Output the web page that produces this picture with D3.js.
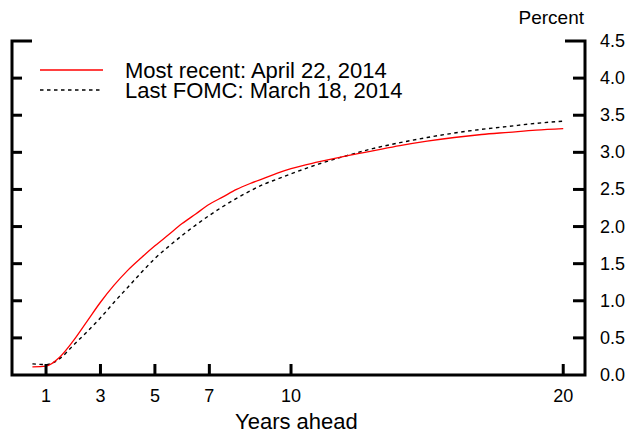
<!DOCTYPE html>
<html>
<head>
<meta charset="utf-8">
<script src="https://d3js.org/d3.v7.min.js"></script>
<style>
  body { margin: 0; background: white; }
  text { font-family: "Liberation Sans", Arial, sans-serif; fill: black; }
</style>
</head>
<body>
<div id="chart"></div>
<script>
// years ahead
var years = [0.5, 1, 1.5, 2, 2.5, 3, 3.5, 4, 4.5, 5, 5.5, 6, 6.5, 7, 7.5, 8, 8.5, 9, 9.5, 10,
             11, 12, 13, 14, 15, 16, 17, 18, 19, 20];
// most recent: April 22, 2014
var recent = [0.11, 0.12, 0.24, 0.46, 0.72, 0.98, 1.21, 1.41, 1.58, 1.74, 1.89, 2.04, 2.17, 2.30, 2.40, 2.50, 2.58, 2.65, 2.72, 2.78,
              2.87, 2.95, 3.02, 3.09, 3.15, 3.20, 3.24, 3.27, 3.30, 3.32];
// last FOMC: March 18, 2014
var lastFomc = [0.15, 0.14, 0.22, 0.40, 0.58, 0.77, 0.98, 1.18, 1.38, 1.57, 1.73, 1.88, 2.02, 2.15, 2.27, 2.38, 2.48, 2.57, 2.64, 2.71,
                2.84, 2.95, 3.05, 3.13, 3.20, 3.26, 3.31, 3.35, 3.39, 3.42];
var xTicks = [1, 3, 5, 7, 10, 20];
var yTicks = [0, 0.5, 1, 1.5, 2, 2.5, 3, 3.5, 4, 4.5];

var w = 642;
var h = 434;

var svg = d3.select("#chart")
  .append("svg")
  .attr("width", w)
  .attr("height", h);

var xScale = d3.scaleLinear().domain([-0.25, 20.8]).range([12, 585]);
var yScale = d3.scaleLinear().domain([0, 4.5]).range([375, 41]);

var x0 = xScale.range()[0], x1 = xScale.range()[1];
var y0 = yScale.range()[0], y1 = yScale.range()[1];

// curves
var curve = d3.line()
  .x(function(d, i) { return xScale(years[i]); })
  .y(function(d) { return yScale(d); })
  .curve(d3.curveMonotoneX);

svg.append("path")
  .datum(lastFomc)
  .attr("d", curve)
  .style("fill", "none")
  .style("stroke", "black")
  .style("stroke-width", 1.4)
  .style("stroke-dasharray", "3.5,3.5");

svg.append("path")
  .datum(recent)
  .attr("d", curve)
  .style("fill", "none")
  .style("stroke", "#ff0000")
  .style("stroke-width", 1.3);

// frame: left, bottom, right
var frame = svg.append("g")
  .style("stroke", "black")
  .style("stroke-width", 3)
  .style("fill", "none");

frame.append("path")
  .attr("d", "M" + (x0 + 20) + "," + y1 + "H" + x0 + "V" + y0 + "H" + x1 + "V" + y1 + "H" + (x1 - 20));

// left/right y ticks
frame.selectAll(".ly")
  .data(yTicks.slice(1, -1))
  .enter()
  .append("line")
  .attr("x1", x0).attr("x2", x0 + 10)
  .attr("y1", function(d) { return yScale(d); })
  .attr("y2", function(d) { return yScale(d); });

frame.selectAll(".ry")
  .data(yTicks.slice(1, -1))
  .enter()
  .append("line")
  .attr("x1", x1).attr("x2", x1 - 12)
  .attr("y1", function(d) { return yScale(d); })
  .attr("y2", function(d) { return yScale(d); });

// x ticks
frame.selectAll(".xt")
  .data(xTicks)
  .enter()
  .append("line")
  .attr("x1", function(d) { return xScale(d); })
  .attr("x2", function(d) { return xScale(d); })
  .attr("y1", y0).attr("y2", y0 - 11);

// tick labels
svg.selectAll(".yl")
  .data(yTicks)
  .enter()
  .append("text")
  .attr("x", 600)
  .attr("y", function(d) { return yScale(d) + 6; })
  .style("font-size", "18px")
  .text(function(d) { return d.toFixed(1); });

svg.selectAll(".xl")
  .data(xTicks)
  .enter()
  .append("text")
  .attr("x", function(d) { return xScale(d); })
  .attr("y", 402)
  .attr("text-anchor", "middle")
  .style("font-size", "18px")
  .text(function(d) { return d; });

svg.append("text")
  .attr("x", 584)
  .attr("y", 24)
  .attr("text-anchor", "end")
  .style("font-size", "19px")
  .text("Percent");

svg.append("text")
  .attr("x", 235)
  .attr("y", 429)
  .style("font-size", "22px")
  .text("Years ahead");

// legend
var legenddata = [
  { name: "Most recent: April 22, 2014", color: "#ff0000", dash: null },
  { name: "Last FOMC: March 18, 2014", color: "black", dash: "3.5,3.5" }
];

var legend = svg.selectAll(".legend")
  .data(legenddata)
  .enter()
  .append("g")
  .attr("transform", function(d, i) { return "translate(0," + (70 + i * 20) + ")"; });

legend.append("line")
  .attr("x1", 40).attr("x2", 103)
  .style("stroke", function(d) { return d.color; })
  .style("stroke-width", 1.3)
  .style("stroke-dasharray", function(d) { return d.dash; });

legend.append("text")
  .attr("x", 125)
  .attr("y", 7.5)
  .style("font-size", "22px")
  .text(function(d) { return d.name; });
</script>
</body>
</html>
